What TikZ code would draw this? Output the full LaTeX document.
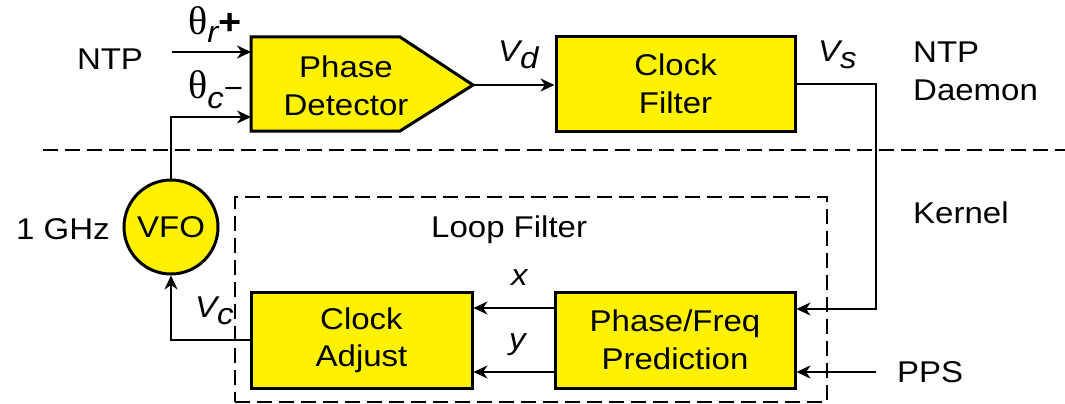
\documentclass[tikz,border=0pt]{standalone}
\usepackage{fontspec}
\setmainfont[FakeStretch=1.1]{Liberation Sans}
\newfontfamily\greekf{Liberation Serif}
\usetikzlibrary{arrows.meta}
\begin{document}
\begin{tikzpicture}[x=1pt,y=-1pt,
  blk/.style={draw=black, line width=3pt, fill=yellow},
  txt/.style={font=\fontsize{30}{37.5}\selectfont, align=center, inner sep=0pt},
  lbl/.style={font=\fontsize{30}{37.5}\selectfont, inner sep=0pt},
  wire/.style={line width=2.5pt},
  arr/.style={wire, -{Stealth[length=14pt,width=13pt,inset=4.5pt]}},
  sepline/.style={line width=2.2pt, dash pattern=on 15pt off 7pt}
]
\useasboundingbox (0,0) rectangle (1065,404);

% separator and loop filter frame
\draw[sepline] (43,150) -- (1065,150);
\node[sepline, draw, minimum width=592pt, minimum height=205pt, inner sep=0pt] (lf) at (531,299.5) {};

% phase detector (pentagon)
\coordinate (pdin1) at (251,52);
\coordinate (pdin2) at (251,117);
\coordinate (pdout) at (473,85);
\draw[blk] (251,37) -- (400,37) -- (pdout) -- (400,131) -- (251,131) -- cycle;
\node[txt] (pd) at (346,86) {Phase\\Detector};

% blocks
\node[blk, txt, minimum width=239pt, minimum height=94pt] (cf) at (675.5,84) {Clock\\Filter};
\node[blk, txt, minimum width=240pt, minimum height=96pt] (pf) at (675,340) {Phase/Freq\\Prediction};
\node[blk, txt, minimum width=221pt, minimum height=96pt] (ca) at (361.5,340) {Clock\\Adjust};
\node[blk, txt, circle, minimum size=94pt] (vfo) at (171,227) {VFO};

% connectors
\coordinate (ntpin) at (172,52);
\coordinate (tap) at (876,84);
\coordinate (ppsin) at (876,372);
\draw[arr] (ntpin) -- (pdin1);
\draw[arr] (vfo.north) |- (pdin2);
\draw[arr] (pdout) -- (pdout -| cf.west);
\draw[arr] (cf.east) -- (tap) |- ([yshift=31pt]pf.east);
\draw[arr] ([yshift=32pt]pf.west) -- ([yshift=32pt]pf.west -| ca.east);
\draw[arr] ([yshift=-32pt]pf.west) -- ([yshift=-32pt]pf.west -| ca.east);
\draw[arr] (ppsin) -- (ppsin -| pf.east);
\draw[arr] (ca.west) -| (vfo.south);

% labels
\node[lbl, anchor=base] (ntp) at (110,70) {NTP};
\node[lbl, anchor=base west] (thr) at (188,35) {{\greekf\fontsize{40}{40}\selectfont θ}\raisebox{-8pt}{\itshape r}{\fontsize{36}{36}\selectfont\bfseries +}};
\node[lbl, anchor=base west] (thc) at (188,98) {{\greekf\fontsize{40}{40}\selectfont θ}\raisebox{-10pt}{\itshape c}−};
\node[lbl, anchor=base west] (vd) at (498,62) {\itshape V\raisebox{-7pt}{d}};
\node[lbl, anchor=base west] (vs) at (818,62) {\itshape V\raisebox{-7pt}{s}};
\node[lbl, anchor=base west] (vc) at (195,317) {\itshape V\raisebox{-7pt}{c}};
\node[lbl, anchor=base west] (lx) at (511,285) {\itshape x};
\node[lbl, anchor=base west] (ly) at (509,349) {\itshape y};
\node[txt, anchor=north west, align=left] (daemon) at (913,42) {NTP\\Daemon};
\node[lbl, anchor=base west] (kernel) at (913,223) {Kernel};
\node[lbl, anchor=base west] (ghz) at (16,239) {1 GHz};
\node[lbl, anchor=base west] (loopf) at (431,237) {Loop Filter};
\node[lbl, anchor=base west] (pps) at (897,382) {PPS};
\end{tikzpicture}
\end{document}
